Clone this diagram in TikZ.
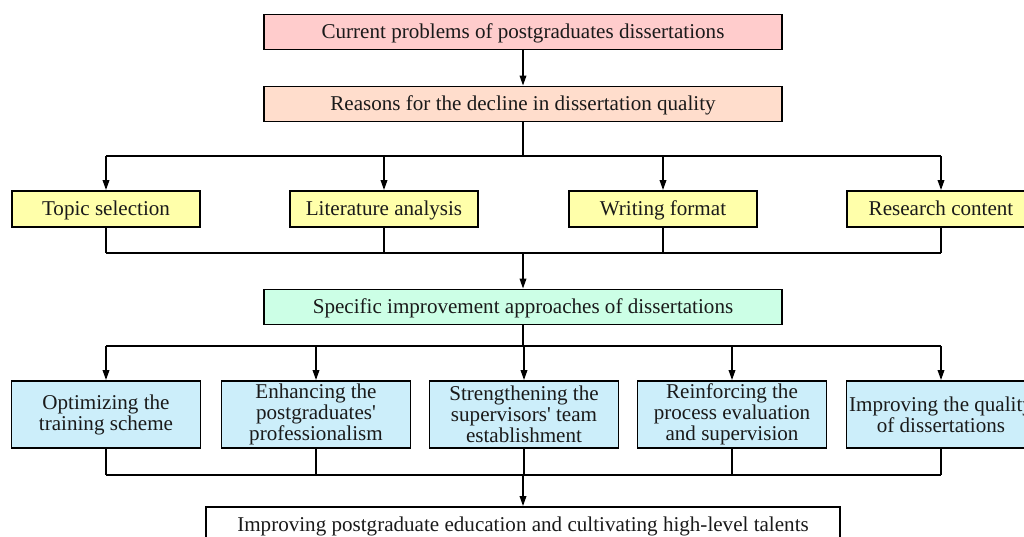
\documentclass[tikz,border=0pt]{standalone}
\usepackage{fontspec}
\setmainfont{Liberation Serif}[Ligatures=TeXOff]
\usetikzlibrary{arrows.meta, positioning, calc}
\definecolor{probpink}{HTML}{FFCCCC}
\definecolor{reasonpeach}{HTML}{FFDDCC}
\definecolor{factyellow}{HTML}{FFFFAA}
\definecolor{waymint}{HTML}{CCFFE6}
\definecolor{stepblue}{HTML}{CCEEFA}
\definecolor{inkgray}{HTML}{1A1A1A}

\begin{document}
\begin{tikzpicture}[
  x=0.02cm, y=-0.02cm,
  >={Triangle[length=2mm, width=1.3mm]},
  wide/.style={draw=black, line width=1pt, fill=#1,
    minimum width=10.36cm, minimum height=0.7cm,
    font=\fontsize{12}{12.5}\selectfont, text=inkgray, inner sep=2pt,
    text height=0.95em, text depth=0.19em},
  item/.style={draw=black, line width=1pt, fill=factyellow,
    minimum width=3.76cm, minimum height=0.72cm,
    font=\fontsize{12}{12.5}\selectfont, text=inkgray, inner sep=2pt,
    text height=0.95em, text depth=0.19em},
  way/.style={draw=black, line width=1pt, fill=stepblue,
    minimum width=3.78cm, minimum height=1.34cm, align=center,
    font=\fontsize{12}{12}\selectfont, text=inkgray, inner sep=1pt},
  final/.style={draw=black, line width=1pt, fill=white,
    minimum width=12.68cm, minimum height=0.7cm,
    font=\fontsize{12}{12.5}\selectfont, text=inkgray, inner sep=2pt,
    text height=0.95em, text depth=0.19em},
  link/.style={line width=1pt, black},
]

% Canvas (right and bottom boxes run off the page)
\useasboundingbox (0,0) rectangle (1024,537);
\fill[white] (0,0) rectangle (1024,537);
\clip (0,0) rectangle (1024,537);

% === Problems and reasons ===
\node[wide=probpink] (problems) at (523,32) {Current problems of postgraduates dissertations};
\node[wide=reasonpeach] (reasons) at (523,104) {Reasons for the decline in dissertation quality};

% === Four factors ===
\node[item] (topic) at (106,209) {Topic selection};
\node[item] (literature) at (384,209) {Literature analysis};
\node[item] (writing) at (663,209) {Writing format};
\node[item] (research) at (941,209) {Research content};

% === Improvement approaches ===
\node[wide=waymint] (approaches) at (523,307) {Specific improvement approaches of dissertations};

\node[way] (optimize) at (106,414.5) {Optimizing the\\training scheme};
\node[way] (enhance) at (316,414.5) {Enhancing the\\postgraduates'\\professionalism};
\node[way] (strengthen) at (524,414.5) {Strengthening the\\supervisors' team\\establishment};
\node[way] (reinforce) at (732,414.5) {Reinforcing the\\process evaluation\\and supervision};
\node[way] (improve) at (941,414.5) {Improving the quality\\of dissertations};

% === Goal ===
\node[final] (talents) at (523,524.5) {Improving postgraduate education and cultivating high-level talents};

% fork / join points
\coordinate (split1) at (523,156);
\coordinate (merge1) at (523,253);
\coordinate (split2) at (523,346);
\coordinate (merge2) at (523,475);

% ============================================================
% Connectors
% ============================================================
\draw[link, ->] (problems.south) -- (reasons.north);

\draw[link] (reasons.south) -- (split1);
\draw[link] (split1 -| topic) -- (split1 -| research);
\foreach \n in {topic, literature, writing, research}
  \draw[link, ->] (split1 -| \n) -- (\n.north);

\foreach \n in {topic, literature, writing, research}
  \draw[link] (\n.south) -- (merge1 -| \n);
\draw[link] (merge1 -| topic) -- (merge1 -| research);
\draw[link, ->] (merge1) -- (approaches.north);

\draw[link] (approaches.south) -- (split2);
\draw[link] (split2 -| optimize) -- (split2 -| improve);
\foreach \n in {optimize, enhance, strengthen, reinforce, improve}
  \draw[link, ->] (split2 -| \n) -- (\n.north);

\foreach \n in {optimize, enhance, strengthen, reinforce, improve}
  \draw[link] (\n.south) -- (merge2 -| \n);
\draw[link] (merge2 -| optimize) -- (merge2 -| improve);
\draw[link, ->] (merge2) -- (talents.north);

\end{tikzpicture}
\end{document}
